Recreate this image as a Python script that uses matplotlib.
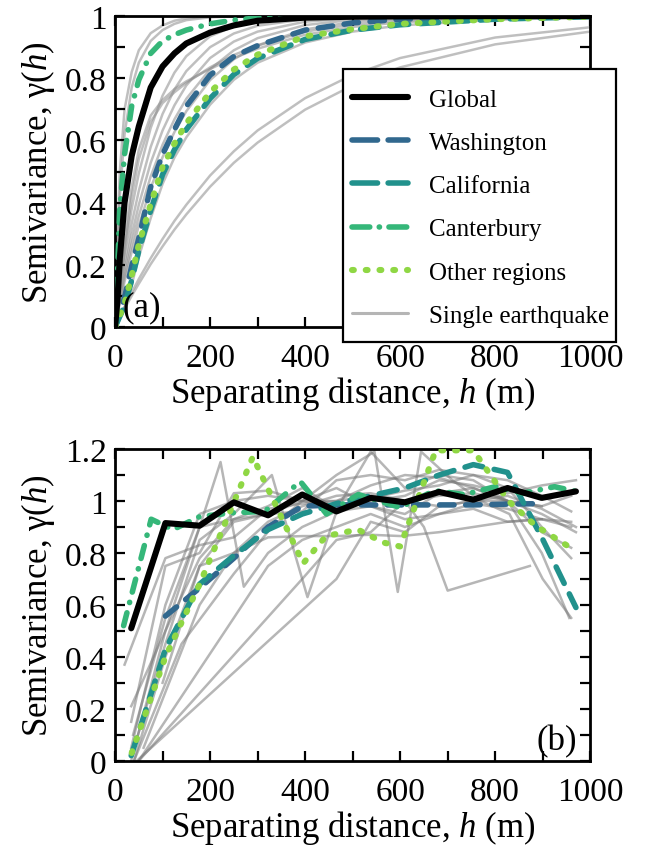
import matplotlib
matplotlib.use("Agg")
import matplotlib.pyplot as plt
from matplotlib.lines import Line2D
from matplotlib.patches import Rectangle
from matplotlib.ticker import MultipleLocator

plt.rcParams['font.family'] = ['Liberation Serif', 'DejaVu Serif']
plt.rcParams['mathtext.fontset'] = 'custom'
plt.rcParams['mathtext.rm'] = 'Liberation Serif'
plt.rcParams['mathtext.it'] = 'Liberation Serif:italic'

# ---------------- Panel (a): fitted semivariogram models ----------------
h_model = [0, 5, 10, 20, 35, 50, 75, 100, 125, 150, 200, 250, 300, 400, 500, 600, 800, 1000]

global_model = [0, 0.085, 0.22, 0.40, 0.55, 0.645, 0.77, 0.838, 0.88, 0.912, 0.947, 0.97,
                0.985, 0.995, 0.998, 0.999, 1.0, 1.0]
washington_model = [0, 0.02, 0.045, 0.095, 0.195, 0.285, 0.45, 0.555, 0.635, 0.71, 0.81,
                    0.87, 0.905, 0.955, 0.978, 0.99, 0.998, 1.0]
california_model = [0, 0.017, 0.034, 0.068, 0.15, 0.245, 0.375, 0.49, 0.57, 0.635, 0.735,
                    0.812, 0.864, 0.925, 0.955, 0.972, 0.99, 0.998]
canterbury_model = [0, 0.17, 0.38, 0.555, 0.71, 0.795, 0.88, 0.92, 0.94, 0.955, 0.975,
                    0.987, 0.994, 0.999, 1.0, 1.0, 1.0, 1.0]
other_model = [0, 0.018, 0.037, 0.075, 0.165, 0.265, 0.395, 0.515, 0.59, 0.655, 0.755,
               0.828, 0.876, 0.935, 0.958, 0.975, 0.99, 0.998]

single_models = [
    [0, 0.30, 0.50, 0.70, 0.82, 0.89, 0.945, 0.97, 0.985, 0.993, 0.998, 1.0, 1.0, 1.0, 1.0, 1.0, 1.0, 1.0],
    [0, 0.22, 0.42, 0.62, 0.77, 0.85, 0.92, 0.955, 0.975, 0.987, 0.996, 0.999, 1.0, 1.0, 1.0, 1.0, 1.0, 1.0],
    [0, 0.06, 0.14, 0.28, 0.45, 0.57, 0.68, 0.73, 0.765, 0.79, 0.83, 0.865, 0.895, 0.94, 0.965, 0.98, 0.995, 1.0],
    [0, 0.05, 0.12, 0.25, 0.42, 0.54, 0.66, 0.72, 0.755, 0.785, 0.835, 0.875, 0.905, 0.95, 0.973, 0.985, 0.997, 1.0],
    [0, 0.066, 0.127, 0.239, 0.380, 0.494, 0.640, 0.744, 0.818, 0.871, 0.935, 0.967, 0.983, 0.996, 0.999, 1.0, 1.0, 1.0],
    [0, 0.056, 0.109, 0.206, 0.332, 0.438, 0.579, 0.685, 0.764, 0.823, 0.900, 0.944, 0.969, 0.990, 0.997, 0.999, 1.0, 1.0],
    [0, 0.049, 0.095, 0.181, 0.295, 0.393, 0.528, 0.632, 0.713, 0.777, 0.865, 0.918, 0.950, 0.982, 0.993, 0.998, 1.0, 1.0],
    [0, 0.043, 0.084, 0.162, 0.266, 0.357, 0.484, 0.586, 0.668, 0.734, 0.829, 0.890, 0.929, 0.971, 0.988, 0.995, 0.999, 1.0],
    [0, 0.039, 0.076, 0.146, 0.241, 0.326, 0.447, 0.546, 0.627, 0.694, 0.794, 0.861, 0.906, 0.957, 0.981, 0.991, 0.998, 1.0],
    [0, 0.015, 0.03, 0.062, 0.135, 0.225, 0.35, 0.46, 0.545, 0.61, 0.715, 0.795, 0.85, 0.915, 0.95, 0.97, 0.988, 0.996],
    [0, 0.0165, 0.033, 0.0645, 0.1105, 0.154, 0.221, 0.283, 0.341, 0.393, 0.487, 0.565, 0.632, 0.736, 0.811, 0.865, 0.931, 0.964],
    [0, 0.015, 0.030, 0.058, 0.100, 0.139, 0.202, 0.259, 0.313, 0.362, 0.451, 0.528, 0.593, 0.699, 0.777, 0.835, 0.909, 0.950],
]

# ---------------- Panel (b): empirical semivariograms ----------------
h_bins = [34, 106, 178, 250, 322, 394, 466, 538, 610, 682, 754, 826, 898, 970]
global_emp = [0.51, 0.915, 0.905, 0.995, 0.945, 1.025, 0.96, 1.012, 0.995, 1.035, 1.005, 1.05, 1.012, 1.037]

wash_h = [106, 178, 250, 322, 394, 466, 538, 610, 682, 754, 826, 898]
wash_emp = [0.557, 0.665, 0.78, 0.90, 0.98, 0.985, 0.985, 0.985, 0.985, 0.985, 0.988, 0.99]

cal_h = [34, 106, 178, 250, 322, 394, 466, 538, 610, 682, 754, 826, 898, 970]
cal_emp = [0.02, 0.43, 0.68, 0.79, 0.89, 0.95, 0.99, 1.02, 1.05, 1.10, 1.14, 1.11, 0.86, 0.59]

cant_h = [18, 76, 122, 178, 250, 315, 390, 445, 512, 600, 672, 735, 800, 858, 925, 975]
cant_emp = [0.52, 0.93, 0.89, 0.94, 0.955, 0.96, 1.075, 0.95, 1.025, 0.975, 1.04, 1.025, 1.055, 1.03, 1.055, 1.035]

oth_h = [35, 106, 178, 290, 396, 444, 511, 565, 600, 675, 754, 828, 885, 950]
oth_emp = [0.03, 0.40, 0.68, 1.17, 0.76, 0.865, 0.89, 0.84, 0.825, 1.195, 1.195, 1.0, 0.905, 0.83]

single_h = [
    [34, 106, 178, 250, 322, 394, 466, 538, 610, 682, 754, 826, 898, 970],
    [20, 106, 178, 250, 322, 394, 466, 538, 610, 682, 754, 826, 898, 970],
    [46, 466, 538, 610, 682, 754, 826, 898, 970],
    [50, 394, 466, 538, 610, 682, 754, 826, 898],
    [40, 106, 178, 250, 330, 405, 470, 538, 610, 682, 754, 826, 898, 956],
    [38, 106, 178, 222, 271, 322, 394, 466, 538, 610, 682, 754, 826, 898, 960],
    [40, 106, 178, 250, 322, 394, 466, 546, 595, 644, 710, 770, 830, 900, 960],
    [60, 178, 250, 322, 394, 466, 538, 610, 650, 700, 873],
    [100, 178, 250, 322, 394, 466, 538, 602, 682, 754, 826, 898, 960],
    [34, 106, 178, 250, 322, 394, 466, 538, 610, 682, 754, 826, 898, 960],
    [34, 106, 178, 250, 322, 394, 466, 538, 610, 682, 754, 826, 898, 960],
    [50, 250, 322, 394, 466, 538, 610, 682, 754, 826, 898],
    [34, 106, 178, 250, 322, 394, 466, 538, 610, 682, 754, 826, 898, 960],
    [40, 140, 250, 330, 394, 466, 538, 610, 682, 754, 826, 898, 960],
]
single_emp = [
    [0.21, 0.50, 0.78, 0.93, 0.98, 1.05, 0.97, 1.00, 1.02, 1.08, 1.06, 1.03, 1.06, 1.08],
    [0.37, 0.78, 0.83, 0.86, 0.97, 0.99, 1.00, 1.02, 1.00, 0.98, 1.00, 1.00, 0.95, 0.88],
    [0.0, 0.70, 0.92, 0.88, 0.98, 1.00, 1.02, 0.97, 0.90],
    [0.0, 0.70, 0.85, 0.88, 1.00, 1.02, 1.03, 1.00, 0.98],
    [0.05, 0.45, 0.85, 0.95, 1.10, 0.63, 0.98, 1.19, 1.05, 1.10, 1.08, 1.00, 0.80, 0.55],
    [0.10, 0.55, 0.90, 1.15, 0.67, 0.80, 0.90, 0.96, 0.98, 0.93, 0.95, 0.99, 0.97, 0.93, 0.90],
    [0.0, 0.40, 0.75, 0.92, 0.95, 1.00, 1.10, 1.19, 0.65, 1.19, 1.08, 1.00, 0.95, 0.70, 0.55],
    [0.05, 0.60, 0.80, 0.92, 0.98, 1.02, 1.03, 1.00, 0.90, 0.655, 0.75],
    [0.30, 0.75, 0.80, 0.86, 0.865, 0.865, 0.87, 0.865, 0.88, 0.90, 0.92, 0.93, 0.92],
    [0.0, 0.50, 0.90, 0.93, 0.95, 0.96, 1.08, 1.10, 1.08, 1.12, 1.10, 1.05, 0.90, 0.78],
    [0.05, 0.60, 0.95, 1.00, 1.02, 1.00, 1.05, 0.98, 0.95, 1.03, 1.05, 1.00, 0.98, 1.02],
    [0.0, 0.55, 0.75, 0.85, 0.90, 0.95, 0.90, 0.95, 0.97, 0.92, 0.93],
    [0.15, 0.75, 0.80, 1.03, 1.04, 1.00, 0.98, 1.01, 1.04, 1.06, 1.10, 1.08, 1.02, 0.96],
    [0.0, 0.45, 0.72, 0.90, 1.00, 1.00, 1.06, 1.10, 1.09, 1.05, 1.00, 0.88, 0.82],
]

x_ticks = [0, 200, 400, 600, 800, 1000]
y_ticks_a = [0, 0.2, 0.4, 0.6, 0.8, 1.0]
y_ticklabels_a = ['0', '0.2', '0.4', '0.6', '0.8', '1']
y_ticks_b = [0, 0.2, 0.4, 0.6, 0.8, 1.0, 1.2]
y_ticklabels_b = ['0', '0.2', '0.4', '0.6', '0.8', '1', '1.2']

# ---------------- styles ----------------
C_WASH = '#31688e'
C_CAL = '#21918c'
C_CANT = '#35b779'
C_OTH = '#8fd744'
FS_TICK = 24
FS_LAB = 25
LFS = 18

fig = plt.figure(figsize=(6.5, 8.54), dpi=100)
ax1 = fig.add_axes([0.177, 0.616, 0.731, 0.364])
ax2 = fig.add_axes([0.177, 0.108, 0.731, 0.365])

LW_G = 4.4
LW_C = 4.0
LW_O = 4.4
dash_w = (0, (2.6, 2.1))
dash_c = (0, (3.3, 2.1))
dash_k = (0, (2.4, 1.9, 0.05, 1.9))
dash_o = (0, (0.3, 1.95))

def style_common(line):
    line.set_dash_capstyle('round')
    line.set_solid_capstyle('round')
    line.set_solid_joinstyle('round')
    line.set_dash_joinstyle('round')

# panel a
for ys in single_models:
    ax1.plot(h_model, ys, color='#8c8c8c', alpha=0.55, lw=1.8, zorder=1)
for ys, c, ls, lw in [(washington_model, C_WASH, dash_w, LW_C), (california_model, C_CAL, dash_c, LW_C),
                      (canterbury_model, C_CANT, dash_k, LW_C), (other_model, C_OTH, dash_o, LW_O)]:
    ln, = ax1.plot(h_model, ys, color=c, lw=lw, ls=ls, zorder=3)
    style_common(ln)
ln, = ax1.plot(h_model, global_model, color='black', lw=LW_G, zorder=4)
style_common(ln)

# panel b
for hs, ys in zip(single_h, single_emp):
    ax2.plot(hs, ys, color='#7a7a7a', alpha=0.55, lw=1.8, zorder=1)
for hs, ys, c, ls, lw in [(wash_h, wash_emp, C_WASH, dash_w, LW_C), (cal_h, cal_emp, C_CAL, dash_c, LW_C),
                          (cant_h, cant_emp, C_CANT, dash_k, LW_C), (oth_h, oth_emp, C_OTH, dash_o, LW_O)]:
    ln, = ax2.plot(hs, ys, color=c, lw=lw, ls=ls, zorder=3)
    style_common(ln)
ln, = ax2.plot(h_bins, global_emp, color='black', lw=LW_G, zorder=4)
style_common(ln)

for ax, yt, ytl, ymax in [(ax1, y_ticks_a, y_ticklabels_a, 1.0), (ax2, y_ticks_b, y_ticklabels_b, 1.2)]:
    ax.set_xlim(0, 1000)
    ax.set_ylim(0, ymax)
    ax.set_xticks(x_ticks)
    ax.set_xticklabels([str(t) for t in x_ticks])
    ax.set_yticks(yt)
    ax.set_yticklabels(ytl)
    ax.xaxis.set_minor_locator(MultipleLocator(100))
    ax.yaxis.set_minor_locator(MultipleLocator(0.1))
    ax.tick_params(which='both', direction='in', top=True, right=True, width=1.6,
                   labelsize=FS_TICK)
    ax.tick_params(which='major', length=7)
    ax.tick_params(which='minor', length=7)
    ax.tick_params(axis='x', pad=11)
    ax.tick_params(axis='y', pad=6)
    for sp in ax.spines.values():
        sp.set_linewidth(2.0)
    ax.set_xlabel('Separating distance, $h$ (m)', fontsize=FS_LAB, labelpad=1)
    ax.set_ylabel('Semivariance, γ($h$)', fontsize=FS_LAB, labelpad=6)

ax1.text(0.015, 0.012, '(a)', transform=ax1.transAxes, fontsize=FS_LAB, ha='left', va='bottom', zorder=6)
ax2.text(0.973, 0.012, '(b)', transform=ax2.transAxes, fontsize=FS_LAB, ha='right', va='bottom', zorder=6)

# legend frame (extends beyond the axes like in the original)
frame = Rectangle((0.48, -0.048), 0.575, 0.878, transform=ax1.transAxes,
                  facecolor='white', edgecolor='black', lw=1.6, clip_on=False, zorder=9)
ax1.add_patch(frame)

handles = [
    Line2D([], [], color='black', lw=LW_G, solid_capstyle='round'),
    Line2D([], [], color=C_WASH, lw=LW_C, ls=(0, (4.6, 1.9)), dash_capstyle='round'),
    Line2D([], [], color=C_CAL, lw=LW_C, ls=(0, (4.6, 1.9)), dash_capstyle='round'),
    Line2D([], [], color=C_CANT, lw=LW_C, ls=(0, (3.2, 1.7, 0.05, 1.7)), dash_capstyle='round'),
    Line2D([], [], color=C_OTH, lw=LW_O, ls=dash_o, dash_capstyle='round'),
    Line2D([], [], color='#b5b5b5', lw=2.2, solid_capstyle='round'),
]
labels = ['Global', 'Washington', 'California', 'Canterbury', 'Other regions', 'Single earthquake']
leg = ax1.legend(handles, labels, loc='upper left', bbox_to_anchor=(0.499, 0.768),
                 borderaxespad=0, borderpad=0, fontsize=LFS, frameon=False,
                 handlelength=2.24, handletextpad=0.84, labelspacing=0.83)
leg.set_zorder(10)

fig.savefig('out.png', dpi=100)
